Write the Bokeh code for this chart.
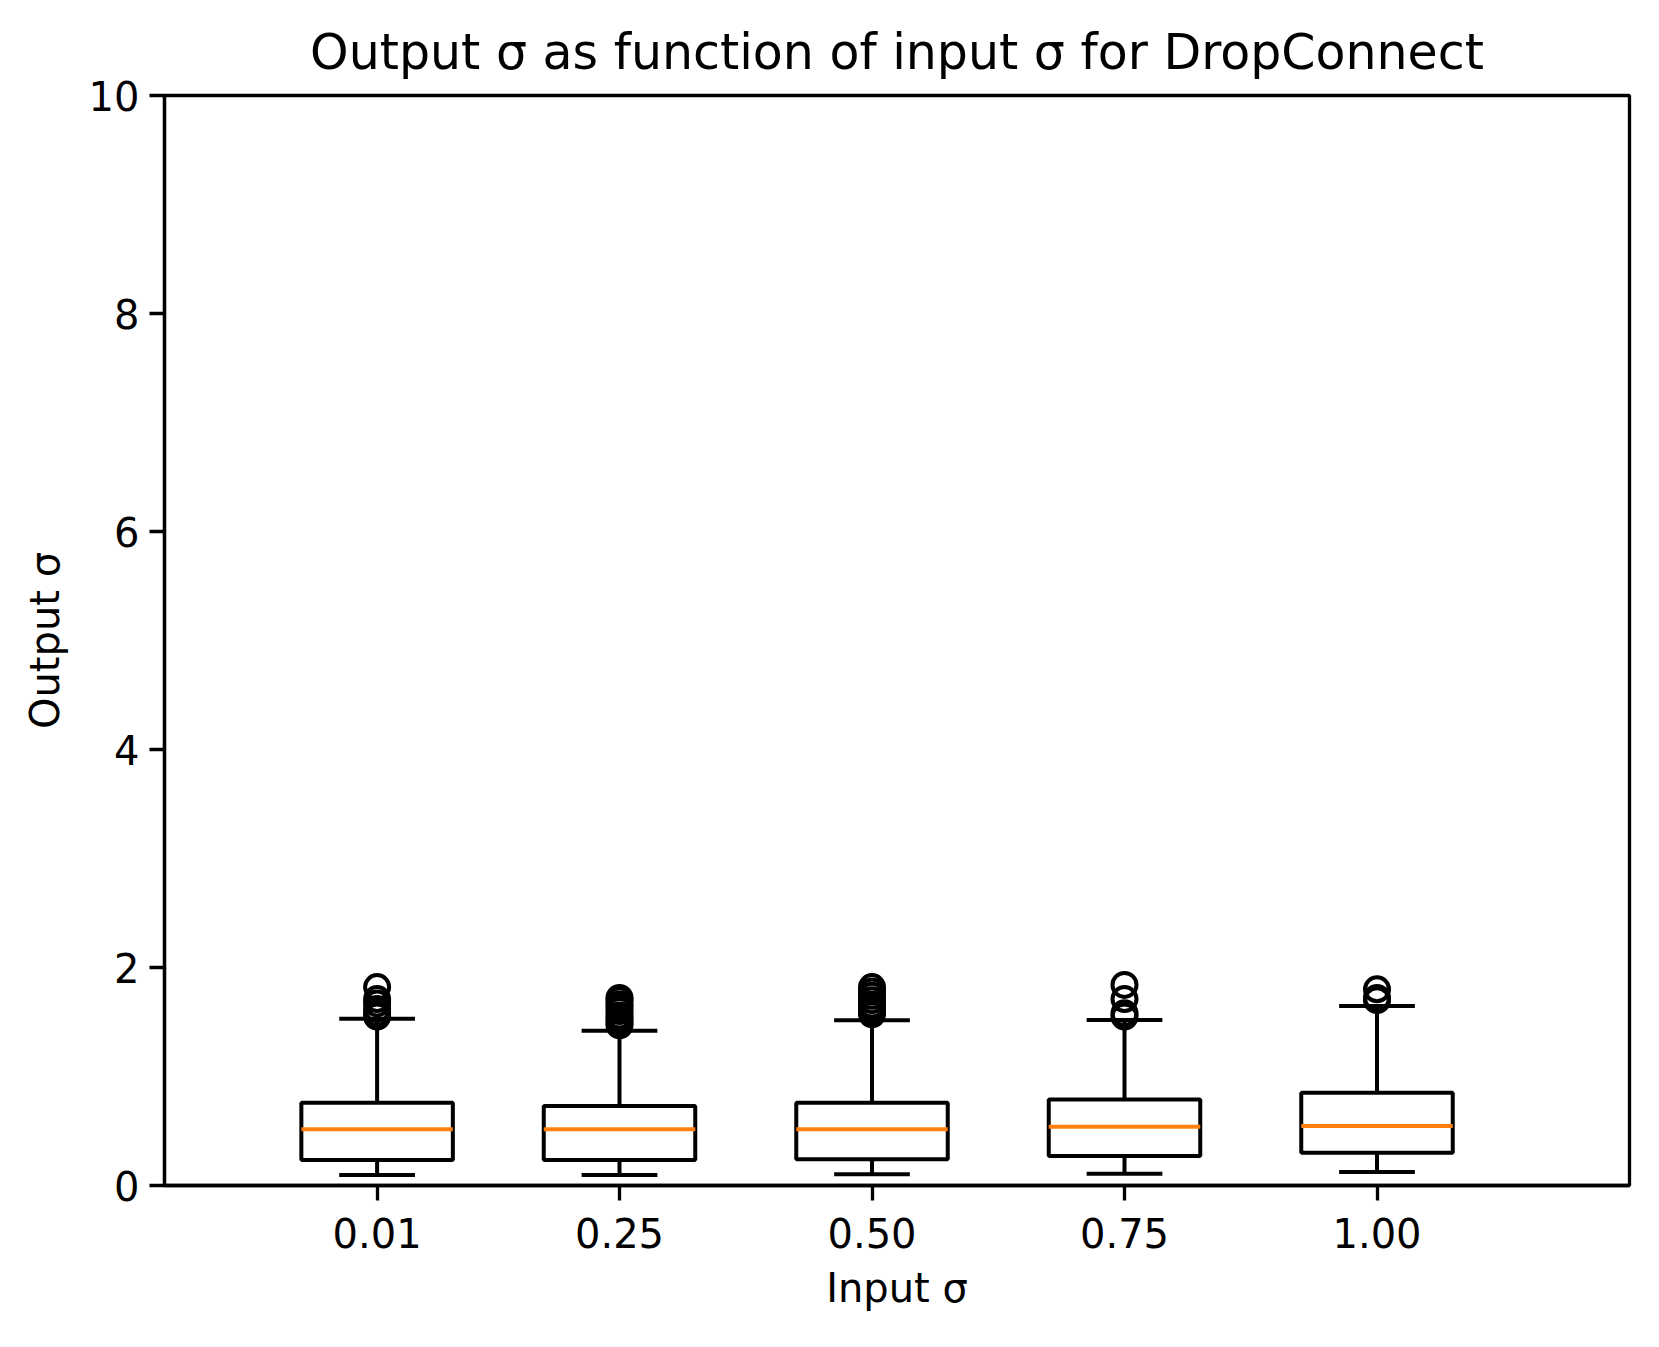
from bokeh.plotting import figure
from bokeh.models import Range1d, FixedTicker
from bokeh.embed import file_html
from bokeh.resources import INLINE

# ---- data ----
tick_labels = ["0.01", "0.25", "0.50", "0.75", "1.00"]
positions = [0.01, 0.25, 0.50, 0.75, 1.00]
q1 = [0.234, 0.234, 0.240, 0.270, 0.300]
median = [0.515, 0.515, 0.515, 0.539, 0.546]
q3 = [0.759, 0.729, 0.759, 0.790, 0.851]
whisker_low = [0.096, 0.096, 0.103, 0.108, 0.124]
whisker_high = [1.530, 1.420, 1.515, 1.518, 1.646]
outliers = [
    [1.55, 1.58, 1.62, 1.67, 1.71, 1.82],
    [1.47, 1.50, 1.53, 1.56, 1.60, 1.63, 1.66, 1.70, 1.72],
    [1.57, 1.60, 1.63, 1.66, 1.70, 1.74, 1.78, 1.82],
    [1.55, 1.58, 1.71, 1.84],
    [1.70, 1.72, 1.80],
]
y_ticks = [0, 2, 4, 6, 8, 10]

BOX_W = 0.15
CAP_W = 0.075
LW = 4
FONT = "DejaVu Sans"
FS = "40px"

p = figure(
    frame_width=1465, frame_height=1090,
    min_border_left=164, min_border_right=10,
    min_border_top=95, min_border_bottom=120,
    x_range=Range1d(-0.2005, 1.25), y_range=Range1d(0, 10),
    output_backend="svg", toolbar_location=None,
    title="Output σ as function of input σ for DropConnect",
)
p.background_fill_color = "white"
p.border_fill_color = "white"
p.xgrid.visible = False
p.ygrid.visible = False
p.outline_line_color = "black"
p.outline_line_width = 3.3

p.title.align = "center"
p.title.text_font = FONT
p.title.text_font_size = "49px"
p.title.text_font_style = "normal"
p.title.text_color = "black"
p.title.standoff = 29

# boxes
p.quad(left=[x - BOX_W / 2 for x in positions], right=[x + BOX_W / 2 for x in positions],
       bottom=q1, top=q3, fill_color=None, line_color="black", line_width=LW)
# medians
p.segment(x0=[x - BOX_W / 2 for x in positions], x1=[x + BOX_W / 2 for x in positions],
          y0=median, y1=median, line_color="#ff7f0e", line_width=LW)
# whiskers
p.segment(x0=positions, x1=positions, y0=q3, y1=whisker_high, line_color="black", line_width=LW)
p.segment(x0=positions, x1=positions, y0=q1, y1=whisker_low, line_color="black", line_width=LW)
# caps
p.segment(x0=[x - CAP_W / 2 for x in positions], x1=[x + CAP_W / 2 for x in positions],
          y0=whisker_high, y1=whisker_high, line_color="black", line_width=LW)
p.segment(x0=[x - CAP_W / 2 for x in positions], x1=[x + CAP_W / 2 for x in positions],
          y0=whisker_low, y1=whisker_low, line_color="black", line_width=LW)
# outliers
ox, oy = [], []
for x, vals in zip(positions, outliers):
    for v in vals:
        ox.append(x)
        oy.append(v)
p.scatter(ox, oy, marker="circle", size=24, fill_color=None, line_color="black", line_width=4)

# axes
p.xaxis.ticker = FixedTicker(ticks=positions)
p.xaxis.major_label_overrides = {x: l for x, l in zip(positions, tick_labels)}
p.yaxis.ticker = FixedTicker(ticks=y_ticks)
for ax in (p.xaxis[0], p.yaxis[0]):
    ax.axis_line_color = "black"
    ax.axis_line_width = 3.3
    ax.major_tick_line_color = "black"
    ax.major_tick_line_width = 3.3
    ax.major_tick_out = 15
    ax.major_tick_in = 0
    ax.minor_tick_line_color = None
    ax.major_label_text_font = FONT
    ax.major_label_text_font_size = FS
    ax.major_label_text_color = "black"
    ax.axis_label_text_font = FONT
    ax.axis_label_text_font_size = FS
    ax.axis_label_text_font_style = "normal"
    ax.axis_label_text_color = "black"
p.xaxis.major_label_standoff = 17
p.yaxis.major_label_standoff = 10
p.xaxis.axis_label = "Input σ"
p.yaxis.axis_label = "Output σ"
p.xaxis.axis_label_standoff = 14
p.yaxis.axis_label_standoff = 18

open("out.html", "w").write(file_html(p, INLINE))
